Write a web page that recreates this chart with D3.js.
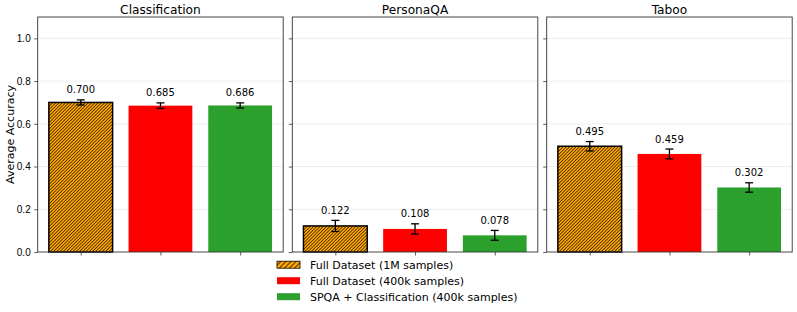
<!DOCTYPE html>
<html>
<head>
<meta charset="utf-8">
<script src="https://cdn.jsdelivr.net/npm/d3@7"></script>
<style>
  body { margin: 0; background: #fff; }
  svg { font-family: "DejaVu Sans", sans-serif; }
</style>
</head>
<body>
<div class="container"></div>
<script>
(function(d3) {
  "use strict";

  var tasks = ["Classification", "PersonaQA", "Taboo"];
  var seriesNames = [
    "Full Dataset (1M samples)",
    "Full Dataset (400k samples)",
    "SPQA + Classification (400k samples)"
  ];
  var full1M = [0.700, 0.122, 0.495];
  var full400k = [0.685, 0.108, 0.459];
  var spqa400k = [0.686, 0.078, 0.302];
  var err1M = [0.012, 0.026, 0.022];
  var err400k = [0.013, 0.024, 0.023];
  var errSpqa = [0.012, 0.023, 0.022];
  var yTicks = [0.0, 0.2, 0.4, 0.6, 0.8, 1.0];

  var colors = ["#ffa500", "#ff0000", "#2ca02c"];

  var width = 797, height = 312;
  var panelLeft = [37.7, 292.3, 546.7];
  var panelW = 245.5;
  var top = 17, bottom = 252;

  var svg = d3.select(".container").append("svg")
      .attr("width", width)
      .attr("height", height);

  var defs = svg.append("defs");
  function hatch(id, size, sw) {
    var p = defs.append("pattern")
        .attr("id", id)
        .attr("patternUnits", "userSpaceOnUse")
        .attr("width", size)
        .attr("height", size)
        .attr("patternTransform", "rotate(45)");
    p.append("rect").attr("width", size).attr("height", size).attr("fill", colors[0]);
    p.append("line")
        .attr("x1", 0).attr("y1", 0).attr("x2", 0).attr("y2", size)
        .attr("stroke", "#000").attr("stroke-width", sw);
  }
  hatch("hatchBar", 2.3, 1.2);
  hatch("hatchLegend", 3.6, 1.4);

  var y = d3.scaleLinear().domain([0, 1.1]).range([bottom, top]);

  function valuesFor(t) {
    return [
      { v: full1M[t], e: err1M[t] },
      { v: full400k[t], e: err400k[t] },
      { v: spqa400k[t], e: errSpqa[t] }
    ];
  }

  tasks.forEach(function(task, t) {
    var x = d3.scaleLinear().domain([-0.54, 2.54]).range([0, panelW]);
    var g = svg.append("g")
        .attr("transform", "translate(" + panelLeft[t] + ",0)");

    // grid
    g.selectAll(".grid")
        .data(yTicks.slice(1))
      .enter().append("line")
        .attr("x1", 0).attr("x2", panelW)
        .attr("y1", function(d) { return y(d); })
        .attr("y2", function(d) { return y(d); })
        .attr("stroke", "#e8e8e8")
        .attr("stroke-width", 0.8);

    var data = valuesFor(t);

    g.selectAll(".bar")
        .data(data)
      .enter().append("rect")
        .attr("x", function(d, i) { return x(i - 0.4); })
        .attr("width", x(0.8) - x(0))
        .attr("y", function(d) { return y(d.v); })
        .attr("height", function(d) { return y(0) - y(d.v); })
        .attr("fill", function(d, i) { return i === 0 ? "url(#hatchBar)" : colors[i]; })
        .attr("stroke", function(d, i) { return i === 0 ? "#000" : "none"; })
        .attr("stroke-width", 1.5);

    // error bars
    var eb = g.selectAll(".err")
        .data(data)
      .enter().append("g")
        .attr("stroke", "#000")
        .attr("stroke-width", 1.3);
    eb.append("line")
        .attr("x1", function(d, i) { return x(i); })
        .attr("x2", function(d, i) { return x(i); })
        .attr("y1", function(d) { return y(d.v - d.e); })
        .attr("y2", function(d) { return y(d.v + d.e); });
    [-1, 1].forEach(function(s) {
      eb.append("line")
          .attr("x1", function(d, i) { return x(i) - 4; })
          .attr("x2", function(d, i) { return x(i) + 4; })
          .attr("y1", function(d) { return y(d.v + s * d.e); })
          .attr("y2", function(d) { return y(d.v + s * d.e); });
    });

    // value labels
    g.selectAll(".lbl")
        .data(data)
      .enter().append("text")
        .attr("x", function(d, i) { return x(i); })
        .attr("y", function(d) { return y(d.v + d.e) - 6.5; })
        .attr("text-anchor", "middle")
        .style("font-size", "10px")
        .attr("fill", "#000")
        .text(function(d) { return d.v.toFixed(3); });

    // axes
    var yAxis = d3.axisLeft(y).tickValues(yTicks).tickSize(3.5).tickPadding(3.5)
        .tickFormat(t === 0 ? d3.format(".1f") : function() { return ""; });
    var ya = g.append("g").call(yAxis);
    ya.select(".domain").remove();
    ya.selectAll("line").attr("stroke", "#333").attr("stroke-width", 0.8);
    ya.selectAll("text").style("font-size", "10px").attr("fill", "#000");

    var xAxis = d3.axisBottom(x).tickValues([0, 1, 2]).tickSize(3.5)
        .tickFormat(function() { return ""; });
    var xa = g.append("g").attr("transform", "translate(0," + bottom + ")").call(xAxis);
    xa.select(".domain").remove();
    xa.selectAll("line").attr("stroke", "#333").attr("stroke-width", 0.8);

    g.append("rect")
        .attr("x", 0).attr("y", top)
        .attr("width", panelW).attr("height", bottom - top)
        .attr("fill", "none")
        .attr("stroke", "#333")
        .attr("stroke-width", 0.9);

    g.append("text")
        .attr("x", panelW / 2)
        .attr("y", 14)
        .attr("text-anchor", "middle")
        .style("font-size", "12.2px")
        .attr("fill", "#000")
        .text(task);
  });

  svg.append("text")
      .attr("transform", "translate(14," + ((top + bottom) / 2) + ") rotate(-90)")
      .attr("text-anchor", "middle")
      .style("font-size", "11px")
      .attr("fill", "#000")
      .text("Average Accuracy");

  // legend
  var legend = svg.append("g").attr("transform", "translate(277,264.7)");
  var rows = legend.selectAll(".row")
      .data(seriesNames)
    .enter().append("g")
      .attr("transform", function(d, i) { return "translate(0," + (i * 16) + ")"; });
  rows.append("rect")
      .attr("x", 0).attr("y", -3.5)
      .attr("width", 23).attr("height", 7)
      .attr("fill", function(d, i) { return i === 0 ? "url(#hatchLegend)" : colors[i]; })
      .attr("stroke", function(d, i) { return i === 0 ? "#000" : "none"; })
      .attr("stroke-width", 0.8);
  rows.append("text")
      .attr("x", 33)
      .attr("y", 4)
      .style("font-size", "11px")
      .attr("fill", "#000")
      .text(function(d) { return d; });

}(d3));
</script>
</body>
</html>
